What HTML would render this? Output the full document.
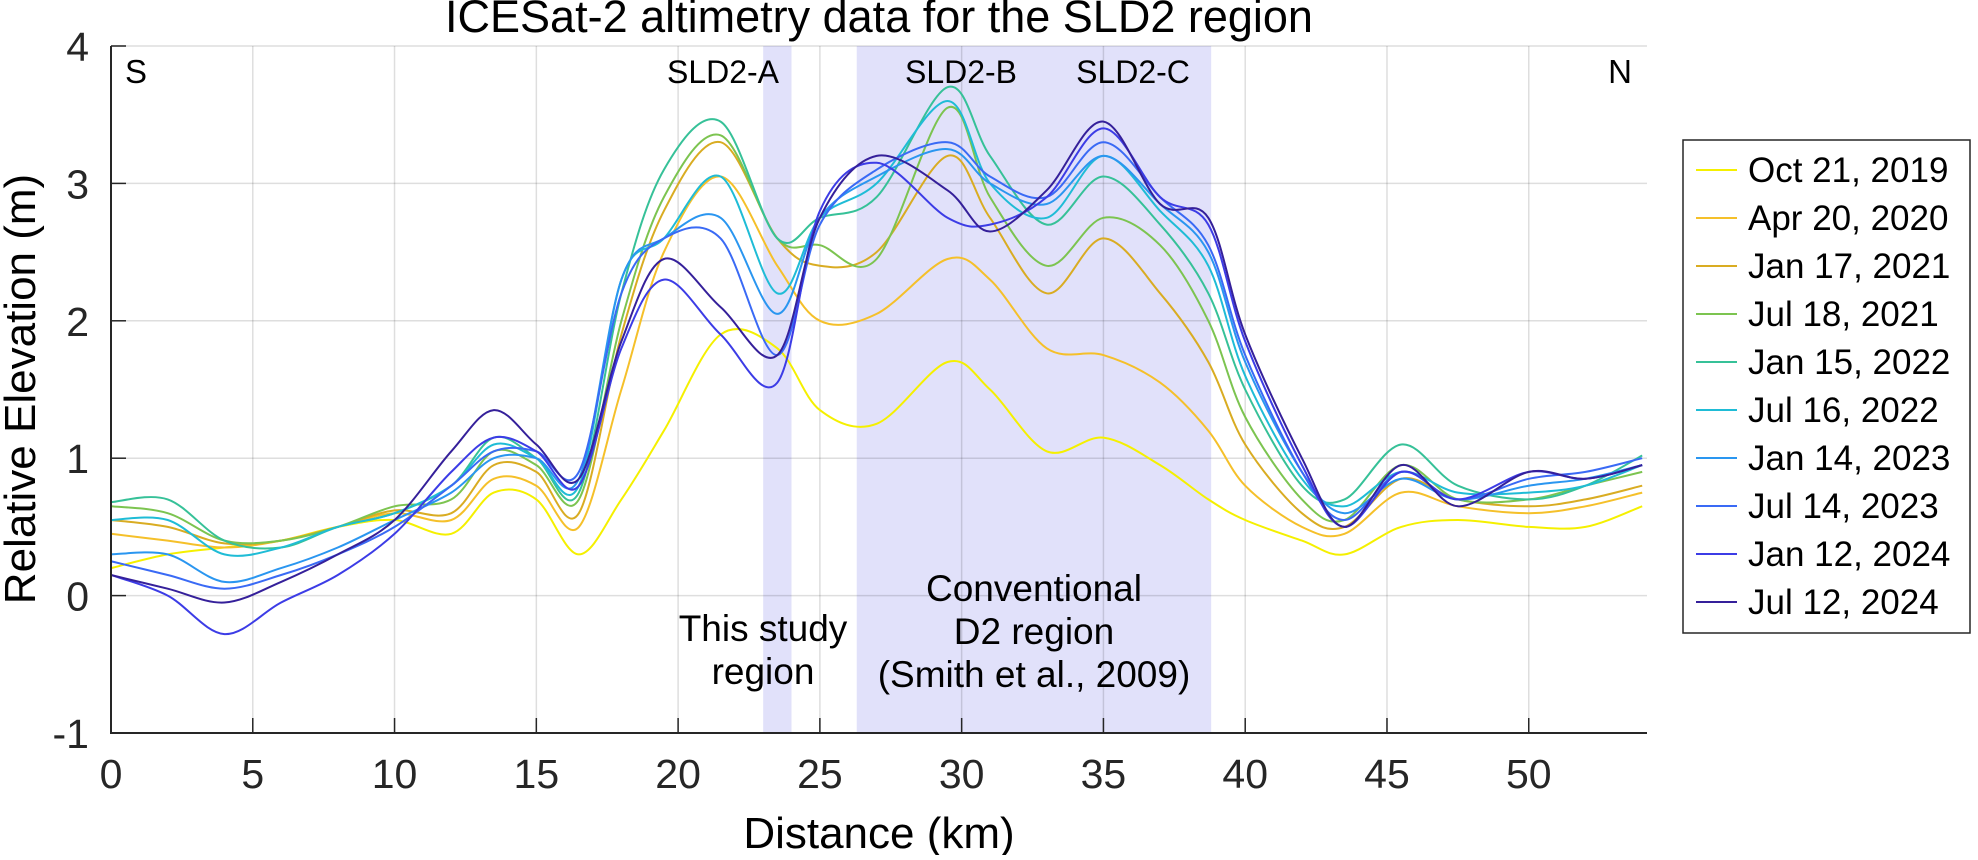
<!DOCTYPE html>
<html><head><meta charset="utf-8"><style>
html,body{margin:0;padding:0;background:#fff;}
svg text{font-family:"Liberation Sans",Arial,sans-serif;}
</style></head><body>
<svg id="chart" width="1978" height="855" xmlns="http://www.w3.org/2000/svg">
<g id="bands"></g><g id="grid"></g><g id="lines"></g><g id="axes"></g><g id="labels"></g><g id="legend"></g>
</svg>
<script>
const xKm = [0,2,4,6,8,10,12,13.5,15,16.5,18,19.5,21.5,23.5,25,27,29.5,31,33,35,37,38.7,40,42,43.5,45.5,47.5,50,52,54];
const seriesNames = ["Oct 21, 2019","Apr 20, 2020","Jan 17, 2021","Jul 18, 2021","Jan 15, 2022","Jul 16, 2022","Jan 14, 2023","Jul 14, 2023","Jan 12, 2024","Jul 12, 2024"];
const seriesColors = ["#f5f000","#f5c02a","#d9ac22","#7cc450","#36c198","#1fbcd6","#2a96f0","#3a6af5","#3c3ce6","#35209a"];
const sOct2019 = [0.2,0.3,0.35,0.4,0.5,0.55,0.45,0.75,0.7,0.3,0.7,1.2,1.9,1.8,1.35,1.25,1.7,1.5,1.05,1.15,0.95,0.7,0.55,0.4,0.3,0.5,0.55,0.5,0.5,0.65];
const sApr2020 = [0.45,0.4,0.35,0.4,0.5,0.6,0.55,0.85,0.8,0.5,1.5,2.5,3.05,2.4,2.0,2.05,2.45,2.3,1.8,1.75,1.55,1.2,0.8,0.5,0.45,0.75,0.65,0.6,0.65,0.75];
const sJan2021 = [0.55,0.5,0.38,0.4,0.5,0.62,0.6,0.95,0.9,0.6,1.9,2.8,3.3,2.6,2.4,2.5,3.2,2.75,2.2,2.6,2.2,1.7,1.1,0.6,0.5,0.85,0.7,0.65,0.7,0.8];
const sJul2021 = [0.65,0.6,0.4,0.4,0.5,0.65,0.7,1.05,0.95,0.7,2.0,2.9,3.35,2.6,2.55,2.45,3.55,2.9,2.4,2.75,2.55,2.0,1.3,0.7,0.55,0.95,0.7,0.7,0.8,0.9];
const sJan2022 = [0.68,0.7,0.4,0.35,0.5,0.6,0.8,1.15,1.0,0.75,2.2,3.1,3.45,2.6,2.75,2.9,3.7,3.2,2.7,3.05,2.7,2.2,1.5,0.8,0.7,1.1,0.8,0.7,0.8,1.02];
const sJul2022 = [0.55,0.55,0.3,0.35,0.5,0.6,0.8,1.1,1.0,0.8,2.3,2.6,3.05,2.2,2.75,3.0,3.6,3.0,2.75,3.2,2.8,2.4,1.6,0.85,0.65,0.9,0.75,0.75,0.8,0.95];
const sJan2023 = [0.3,0.3,0.1,0.2,0.35,0.55,0.75,1.0,1.0,0.85,2.3,2.6,2.75,2.05,2.75,3.05,3.25,3.0,2.85,3.2,2.85,2.5,1.7,0.9,0.6,0.85,0.7,0.8,0.85,0.95];
const sJul2023 = [0.25,0.15,0.05,0.15,0.3,0.5,0.8,1.05,1.05,0.9,2.2,2.6,2.6,1.75,2.7,3.1,3.3,3.05,2.9,3.3,2.9,2.55,1.75,0.9,0.55,0.9,0.7,0.85,0.9,1.0];
const sJan2024 = [0.15,0.0,-0.28,-0.05,0.15,0.45,0.9,1.15,1.05,0.8,1.8,2.3,1.9,1.55,2.8,3.15,2.75,2.7,2.9,3.4,2.9,2.7,1.85,0.95,0.5,0.9,0.7,0.9,0.85,0.95];
const sJul2024 = [0.15,0.05,-0.05,0.1,0.3,0.55,1.05,1.35,1.1,0.85,1.85,2.45,2.1,1.75,2.75,3.2,2.95,2.65,2.95,3.45,2.85,2.75,1.9,1.0,0.5,0.95,0.65,0.9,0.85,0.95];
const allSeries = [sOct2019,sApr2020,sJan2021,sJul2021,sJan2022,sJul2022,sJan2023,sJul2023,sJan2024,sJul2024];
const xTicks = [0,5,10,15,20,25,30,35,40,45,50];
const yTicks = [-1,0,1,2,3,4];
const bandRanges = [[23,24],[26.3,38.8]];

const NS="http://www.w3.org/2000/svg";
const X0=111, X1=1647, XMAX=54.17, YT=46, YB=733, YMIN=-1, YMAX=4;
const xs=v=>X0+(v/XMAX)*(X1-X0);
const ys=v=>YB-(v-YMIN)/(YMAX-YMIN)*(YB-YT);
function mk(tag,attrs,parent,text){const e=document.createElementNS(NS,tag);for(const k in attrs)e.setAttribute(k,attrs[k]);if(text!==undefined)e.textContent=text;parent.appendChild(e);return e;}
const G=id=>document.getElementById(id);

bandRanges.forEach((b,i)=>{
  const r=mk('rect',{x:xs(b[0]),y:YT,width:xs(b[1])-xs(b[0]),height:YB-YT,fill:'#e1e1fa'},G('bands'));
  
  
});
xTicks.forEach(t=>{
  const l=mk('line',{x1:xs(t),x2:xs(t),y1:YT,y2:YB,stroke:'#000','stroke-opacity':0.13,'stroke-width':1.5},G('grid'));
  
  
  mk('line',{x1:xs(t),x2:xs(t),y1:YB,y2:YB-15,stroke:'#262626','stroke-width':1.5},G('axes'));
  const tx=mk('text',{x:xs(t),y:YB+55,'font-size':41,'text-anchor':'middle',fill:'#262626'},G('axes'),String(t));
  
  
});
yTicks.forEach(t=>{
  const l=mk('line',{x1:X0,x2:X1,y1:ys(t),y2:ys(t),stroke:'#000','stroke-opacity':0.13,'stroke-width':1.5},G('grid'));
  
  
  mk('line',{x1:X0,x2:X0+15,y1:ys(t),y2:ys(t),stroke:'#262626','stroke-width':1.5},G('axes'));
  const tx=mk('text',{x:X0-22,y:ys(t)+15,'font-size':41,'text-anchor':'end',fill:'#262626'},G('axes'),String(t));
  
  
});
const ax=mk('path',{d:`M${X0},${YT}V${YB}H${X1}`,fill:'none',stroke:'#262626','stroke-width':2},G('axes'));



function smoothPath(pts){
  let d=`M${pts[0][0]},${pts[0][1]}`;
  for(let i=0;i<pts.length-1;i++){
    const p0=pts[Math.max(0,i-1)],p1=pts[i],p2=pts[i+1],p3=pts[Math.min(pts.length-1,i+2)];
    const c1=[p1[0]+(p2[0]-p0[0])/6,p1[1]+(p2[1]-p0[1])/6],c2=[p2[0]-(p3[0]-p1[0])/6,p2[1]-(p3[1]-p1[1])/6];
    d+=`C${c1[0].toFixed(1)},${c1[1].toFixed(1)} ${c2[0].toFixed(1)},${c2[1].toFixed(1)} ${p2[0].toFixed(1)},${p2[1].toFixed(1)}`;
  }
  return d;
}
allSeries.forEach((s,i)=>{
  const pts=xKm.map((x,j)=>[xs(x),ys(s[j])]);
  const p=mk('path',{d:smoothPath(pts),fill:'none',stroke:seriesColors[i],'stroke-width':2},G('lines'));
  
  
});

const L=G('labels');
function txt(x,y,size,s,name,anchor){const t=mk('text',{x:x,y:y,'font-size':size,'text-anchor':anchor||'middle',fill:'#000'},L,s);
  
  return t;}
txt(879,32,45,'ICESat-2 altimetry data for the SLD2 region','chart-title');
txt(879,848,44,'Distance (km)','x-axis-title');
const yl=txt(0,0,44,'Relative Elevation (m)','y-axis-title');
yl.setAttribute('transform','translate(35,389) rotate(-90)');
txt(136,83,33,'S','south-label');
txt(1620,83,33,'N','north-label');
txt(723,83,32,'SLD2-A','sld2-a-label');
txt(961,83,32,'SLD2-B','sld2-b-label');
txt(1133,83,32,'SLD2-C','sld2-c-label');
txt(763,641,37,'This study','study-region-label');
txt(763,684,37,'region','study-region-label-2');
txt(1034,601,37,'Conventional','d2-region-label');
txt(1034,644,37,'D2 region','d2-region-label-2');
txt(1034,687,37,'(Smith et al., 2009)','d2-region-citation');

const LG=G('legend');
const box=mk('rect',{x:1683,y:140,width:287,height:493,fill:'#fff',stroke:'#262626','stroke-width':1.5},LG);


seriesNames.forEach((n,i)=>{
  const y=170+i*48;
  const g=mk('g',{},LG);
  
  
  mk('line',{x1:1696,x2:1737,y1:y,y2:y,stroke:seriesColors[i],'stroke-width':2},g);
  mk('text',{x:1748,y:y+12,'font-size':35,fill:'#000'},g,n);
});
</script>
</body></html>
